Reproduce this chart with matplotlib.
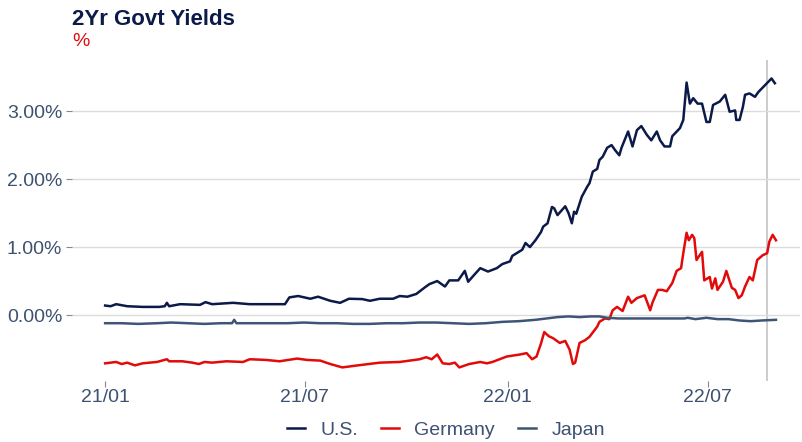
import numpy as np
import pandas as pd
import matplotlib
matplotlib.use('Agg')
import matplotlib.pyplot as plt
import matplotlib.dates as mdates
from matplotlib.ticker import FuncFormatter

plt.rcParams['font.family'] = ['Liberation Sans', 'DejaVu Sans']

# data: days since 2021-01-01, yields in %
start = pd.Timestamp('2021-01-01')

us_days = [0, 5, 10, 20, 34, 49, 54, 56, 58, 68, 86, 91, 97, 116, 131, 152, 163, 167, 175,
           186, 193, 204, 213, 221, 233, 240, 249, 261, 267, 274, 282, 290, 294, 301, 308,
           312, 320, 326, 329, 335, 340, 347, 355, 360, 367, 369, 378, 381, 385, 390, 395,
           397, 401, 405, 407, 410, 417, 420, 423, 425, 427, 432, 437, 439, 442, 446, 448,
           451, 455, 459, 462, 466, 468, 474, 478, 482, 486, 491, 495, 500, 503, 507, 512,
           514, 521, 524, 527, 530, 533, 537, 541, 545, 548, 551, 557, 562, 566, 571, 572,
           575, 578, 580, 584, 589, 592, 598, 604, 607]
us_vals = [0.14, 0.13, 0.16, 0.13, 0.12, 0.12, 0.13, 0.18, 0.13, 0.16, 0.15, 0.19, 0.16, 0.18,
           0.16, 0.16, 0.16, 0.26, 0.28, 0.24, 0.27, 0.21, 0.18, 0.24, 0.235, 0.21, 0.24, 0.24,
           0.28, 0.27, 0.31, 0.41, 0.456, 0.50, 0.42, 0.51, 0.51, 0.65, 0.49, 0.60, 0.69, 0.64,
           0.69, 0.75, 0.79, 0.87, 0.96, 1.06, 1.00, 1.10, 1.22, 1.30, 1.35, 1.59, 1.57, 1.47,
           1.60, 1.50, 1.35, 1.52, 1.49, 1.74, 1.89, 1.94, 2.11, 2.15, 2.28, 2.33, 2.46, 2.50,
           2.43, 2.35, 2.46, 2.70, 2.48, 2.72, 2.78, 2.65, 2.57, 2.70, 2.57, 2.48, 2.48, 2.63,
           2.75, 2.87, 3.42, 3.11, 3.19, 3.11, 3.11, 2.84, 2.84, 3.09, 3.14, 3.24, 2.99, 3.01,
           2.87, 2.87, 3.06, 3.24, 3.26, 3.21, 3.28, 3.38, 3.48, 3.41]

de_days = [0, 10, 15, 20, 27, 34, 47, 56, 58, 70, 79, 85, 90, 97, 110, 125, 131, 146, 158,
           174, 183, 195, 204, 215, 229, 249, 267, 285, 291, 296, 301, 306, 312, 317, 321,
           330, 340, 346, 351, 364, 376, 382, 387, 391, 395, 398, 402, 406, 412, 417, 421,
           424, 426, 430, 435, 439, 446, 448, 453, 457, 460, 464, 469, 474, 477, 482, 489,
           494, 496, 501, 505, 509, 514, 518, 522, 524, 527, 529, 532, 534, 536, 541, 543,
           548, 550, 553, 555, 560, 563, 568, 571, 574, 577, 580, 584, 587, 591, 596, 600,
           602, 605, 608]
de_vals = [-0.71, -0.69, -0.72, -0.70, -0.74, -0.71, -0.69, -0.65, -0.68, -0.68, -0.70, -0.72,
           -0.69, -0.70, -0.68, -0.69, -0.65, -0.66, -0.68, -0.64, -0.66, -0.67, -0.72, -0.77,
           -0.74, -0.70, -0.69, -0.65, -0.62, -0.65, -0.58, -0.71, -0.72, -0.70, -0.77, -0.72,
           -0.69, -0.71, -0.69, -0.61, -0.58, -0.56, -0.65, -0.61, -0.42, -0.25, -0.31, -0.34,
           -0.41, -0.38, -0.51, -0.72, -0.70, -0.41, -0.37, -0.32, -0.17, -0.10, -0.05, -0.06,
           0.07, 0.12, 0.06, 0.27, 0.18, 0.25, 0.29, 0.07, 0.18, 0.37, 0.37, 0.35, 0.47, 0.65,
           0.69, 0.91, 1.21, 1.10, 1.18, 1.13, 0.81, 0.93, 0.51, 0.56, 0.39, 0.54, 0.37, 0.49,
           0.65, 0.40, 0.37, 0.25, 0.29, 0.42, 0.56, 0.51, 0.81, 0.88, 0.91, 1.08, 1.18, 1.10]

jp_days = [0, 15, 30, 47, 60, 75, 90, 105, 115, 117, 119, 135, 150, 165, 180, 195, 210, 225,
           240, 255, 270, 285, 300, 315, 330, 345, 360, 375, 390, 400, 410, 420, 430, 440,
           448, 455, 465, 480, 495, 510, 525, 528, 535, 545, 555, 565, 575, 585, 595, 608]
jp_vals = [-0.12, -0.12, -0.13, -0.12, -0.11, -0.12, -0.13, -0.12, -0.12, -0.07, -0.12, -0.12,
           -0.12, -0.12, -0.11, -0.12, -0.12, -0.13, -0.13, -0.12, -0.12, -0.11, -0.11, -0.12,
           -0.13, -0.12, -0.10, -0.09, -0.07, -0.05, -0.03, -0.02, -0.03, -0.02, -0.02, -0.04,
           -0.05, -0.05, -0.05, -0.05, -0.05, -0.04, -0.06, -0.04, -0.06, -0.06, -0.08, -0.09,
           -0.08, -0.07]

marker_day = 600
tick_dates = ['2021-01-01', '2021-07-01', '2022-01-01', '2022-07-01']

def to_dates(d):
    return start + pd.to_timedelta(d, unit='D')

navy = '#0b1a48'
red = '#e20a0a'
slate = '#3f5577'
label_col = '#3d5170'

fig = plt.figure(figsize=(8.02, 4.42), dpi=100)
ax = fig.add_axes([0.0898, 0.138, 0.908, 0.726])

ax.plot(to_dates(us_days), us_vals, color=navy, lw=1.8, label='U.S.')
ax.plot(to_dates(de_days), de_vals, color=red, lw=1.8, label='Germany')
ax.plot(to_dates(jp_days), jp_vals, color=slate, lw=1.8, label='Japan')
ax.axvline(to_dates(marker_day), color='#c4c4c4', lw=1.2, zorder=0)

ax.set_xlim(to_dates(-30), to_dates(630))
ax.set_ylim(-0.97, 3.75)
ax.set_yticks([0, 1, 2, 3])
ax.yaxis.set_major_formatter(FuncFormatter(lambda v, p: '%.2f%%' % v))
ax.set_xticks(pd.to_datetime(tick_dates))
ax.xaxis.set_major_formatter(mdates.DateFormatter('%y/%m'))
ax.grid(axis='y', color='#dcdcdc', lw=1)
ax.set_axisbelow(True)
for s in ax.spines.values():
    s.set_visible(False)
ax.tick_params(axis='both', labelsize=14, labelcolor=label_col, color='#888888', length=4, width=0.8)
ax.tick_params(axis='x', pad=2)
ax.tick_params(axis='y', pad=3)

fig.text(72 / 802, 1 - 9 / 442, '2Yr Govt Yields', fontsize=16, fontweight='bold', color=navy, va='top')
fig.text(72 / 802, 1 - 33 / 442, '%', fontsize=14, color=red, va='top')

fig.legend(loc='center', bbox_to_anchor=(446 / 802, 1 - 430 / 442), ncol=3, frameon=False,
           fontsize=14, labelcolor=label_col, handlelength=0.9, handletextpad=0.8, columnspacing=1.2)

fig.savefig('out.png', dpi=100)
